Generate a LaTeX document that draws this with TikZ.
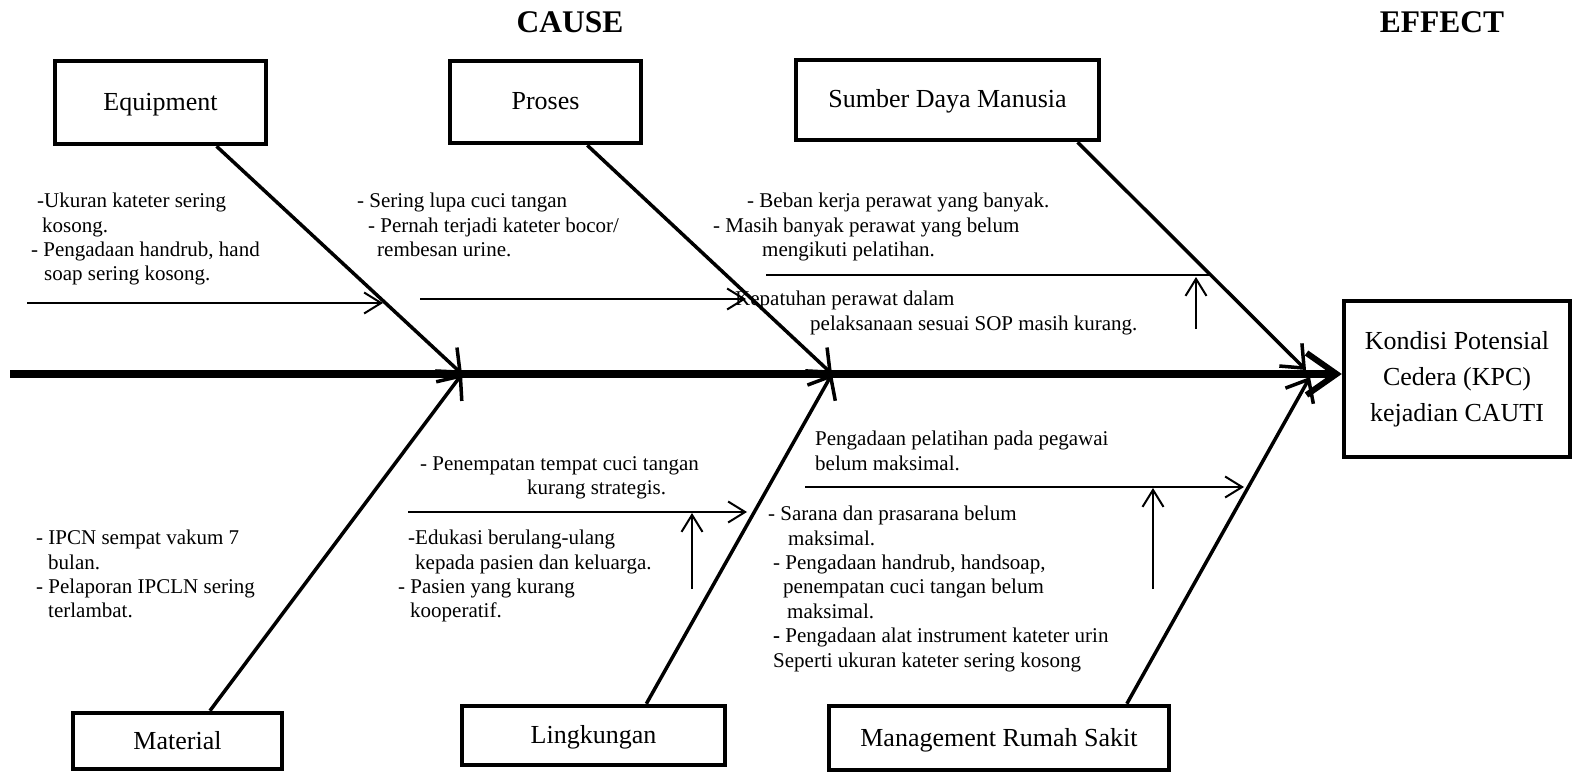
\documentclass[tikz,border=0pt]{standalone}
\usepackage{fontspec}
\setmainfont{Liberation Serif}
\usetikzlibrary{arrows.meta,positioning}

\begin{document}
\begin{tikzpicture}[x=1pt, y=-1pt]
\tikzset{
    catbox/.style={rectangle, draw=black, line width=4.5pt, inner sep=0pt, text height=18pt, text depth=2pt, font=\fontsize{26}{30}\selectfont},
    effbox/.style={rectangle, draw=black, line width=4.5pt, inner sep=0pt, align=center, font=\fontsize{26}{36}\selectfont},
    causetxt/.style={anchor=north west, inner sep=0pt, align=left, font=\fontsize{21}{24.4}\selectfont},
    headlbl/.style={inner sep=0pt, font=\fontsize{31.5}{36}\selectfont\bfseries},
    spine/.style={line width=8pt, -{Straight Barb[length=30pt,width=42pt,line width=6pt]}},
    bone/.style={line width=3.5pt, -{Straight Barb[length=19pt,width=32pt]}},
    subline/.style={line width=2pt},
    subarrow/.style={subline, -{Straight Barb[length=17pt,width=21pt]}}
}
\useasboundingbox (0,0) rectangle (1573,773);

% category boxes
\node[catbox, minimum width=211pt, minimum height=83pt] (equip) at (160.5,102.5) {Equipment};
\node[catbox, minimum width=191pt, minimum height=82pt] (proses) at (545.5,102) {Proses};
\node[catbox, minimum width=303pt, minimum height=80pt] (sdm) at (947.5,100) {Sumber Daya Manusia};
\node[catbox, minimum width=209pt, minimum height=56pt] (material) at (177.5,741) {Material};
\node[catbox, minimum width=263pt, minimum height=59pt] (lingk) at (593.5,735.5) {Lingkungan};
\node[catbox, minimum width=340pt, minimum height=64pt] (mgmt) at (999,738) {Management Rumah Sakit};
\node[effbox, minimum width=226pt, minimum height=156pt] (effect) at (1457,379) {Kondisi Potensial\\Cedera (KPC)\\kejadian CAUTI};

\node[headlbl, above=26pt of proses, xshift=24.5pt] (cause) {CAUSE};
\node[headlbl] (effectlbl) at (1442,22) {EFFECT};

% spine
\coordinate (tail) at (10,374);
\draw[spine] (tail) -- (tail -| effect.west);

% bones
\coordinate (j1) at (462,374);
\coordinate (j2) at (832,374);
\coordinate (j3) at (1306,370);
\coordinate (j4) at (1310,377);
\draw[bone] (equip.-38) -- (j1);
\draw[bone] (material.43) -- (j1);
\draw[bone] (proses.-46) -- (j2);
\draw[bone] (lingk.31) -- (j2);
\draw[bone] (sdm.-18) -- (j3);
\draw[bone] (mgmt.15) -- (j4);

% sub causes
\coordinate (e1) at (27,303);   \coordinate (e2) at (383,303);
\coordinate (p1) at (420,299);  \coordinate (p2) at (746,299);
\coordinate (s1) at (766,275);  \coordinate (s2) at (1210,275);
\coordinate (s3) at (1196,329); \coordinate (s4) at (1196,277);
\coordinate (l1) at (408,512);  \coordinate (l2) at (747,512);
\coordinate (l3) at (692,589);  \coordinate (l4) at (692,513);
\coordinate (m1) at (805,487);  \coordinate (m2) at (1244,487);
\coordinate (m3) at (1153,589); \coordinate (m4) at (1153,488);
\draw[subarrow] (e1) -- (e2);
\draw[subarrow] (p1) -- (p2);
\draw[subline] (s1) -- (s2);
\draw[subarrow] (s3) -- (s4);
\draw[subarrow] (l1) -- (l2);
\draw[subarrow] (l3) -- (l4);
\draw[subarrow] (m1) -- (m2);
\draw[subarrow] (m3) -- (m4);

% texts
\node[causetxt] (equiptxt) at (31,193) {\hspace*{6pt}-Ukuran kateter sering\\\hspace*{11pt}kosong.\\- Pengadaan handrub, hand\\\hspace*{13pt}soap sering kosong.};
\node[causetxt] (prosestxt) at (357,193) {- Sering lupa cuci tangan\\\hspace*{11pt}- Pernah terjadi kateter bocor/\\\hspace*{20pt}rembesan urine.};
\node[causetxt] (sdmtxt) at (713,193) {\hspace*{34pt}- Beban kerja perawat yang banyak.\\- Masih banyak perawat yang belum\\\hspace*{49pt}mengikuti pelatihan.};
\node[causetxt] (sdmtxtb) at (735,291) {Kepatuhan perawat dalam\\\hspace*{75pt}pelaksanaan sesuai SOP masih kurang.};
\node[causetxt] (materialtxt) at (36,530) {- IPCN sempat vakum 7\\\hspace*{12pt}bulan.\\- Pelaporan IPCLN sering\\\hspace*{12pt}terlambat.};
\node[causetxt] (lingktxt) at (420,456) {- Penempatan tempat cuci tangan\\\hspace*{107pt}kurang strategis.};
\node[causetxt] (lingktxtb) at (398,530) {\hspace*{10pt}-Edukasi berulang-ulang\\\hspace*{17pt}kepada pasien dan keluarga.\\- Pasien yang kurang\\\hspace*{12pt}kooperatif.};
\node[causetxt] (mgmttxt) at (815,431) {Pengadaan pelatihan pada pegawai\\belum maksimal.};
\node[causetxt] (mgmttxtb) at (768,506) {- Sarana dan prasarana belum\\\hspace*{20pt}maksimal.\\\hspace*{5pt}- Pengadaan handrub, handsoap,\\\hspace*{15pt}penempatan cuci tangan belum\\\hspace*{19pt}maksimal.\\\hspace*{5pt}\textbf{-} Pengadaan alat instrument kateter urin\\\hspace*{5pt}Seperti ukuran kateter sering kosong};

\end{tikzpicture}
\end{document}
